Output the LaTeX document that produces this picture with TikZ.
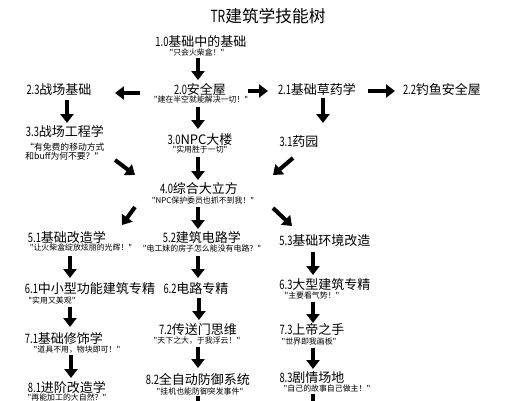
\documentclass[tikz,border=0pt]{standalone}
\usepackage{fontspec}
\usepackage{graphicx}
\newfontfamily\cjk{Noto Sans CJK SC}
\usetikzlibrary{arrows.meta}
\newcommand\nm[1]{\scalebox{0.72}[1]{#1}}

\begin{document}
\begin{tikzpicture}[x=0.02cm,y=-0.02cm,
  lbl/.style={font=\cjk\fontsize{7.4}{8}\selectfont,inner sep=0pt,text height=5.8pt,text depth=0.8pt},
  qt/.style={font=\cjk\fontsize{4.5}{5.4}\selectfont,inner sep=0pt,text height=3.6pt,text depth=0.6pt},
  blk/.style={line width=2.3pt,-{Triangle[width=7.4pt,length=5.1pt]}}]
  \useasboundingbox (0,0) rectangle (505,400);
  \fill[white] (0,0) rectangle (505,400);
  % title
  \node[font=\cjk\fontsize{9.5}{10}\selectfont,inner sep=0pt](title) at (268,16){\nm{TR}建筑学技能树};
  % middle column
  \node[lbl](n10) at (201,42){\nm{1.0}基础中的基础};
  \node[qt](q10) at (197,53){"只会火柴盒！"};
  \node[lbl](n20) at (200,90){\nm{2.0}安全屋};
  \node[qt](q20) at (201,100){"建在半空就能解决一切！"};
  \node[lbl](n30) at (200,140){\nm{3.0}NPC大楼};
  \node[qt](q30) at (200,150){"实用胜于一切"};
  \node[lbl](n40) at (199,189){\nm{4.0}综合大立方};
  \node[qt](q40) at (203,201){"NPC保护委员也抓不到我！"};
  \node[lbl](n52) at (202,238){\nm{5.2}建筑电路学};
  \node[qt](q52) at (202,249){"电工妹的房子怎么能没有电路？"};
  \node[lbl](n62) at (196,289){\nm{6.2}电路专精};
  \node[lbl](n72) at (198,330){\nm{7.2}传送门思维};
  \node[qt](q72) at (197,341){"天下之大，于我浮云！"};
  \node[lbl](n82) at (198,380){\nm{8.2}全自动防御系统};
  \node[qt](q82) at (200,392){"挂机也能防御突发事件"};
  % left column
  \node[lbl](n23) at (59,90){\nm{2.3}战场基础};
  \node[lbl](n33) at (65,132){\nm{3.3}战场工程学};
  \node[qt,font=\cjk\fontsize{5}{5.2}\selectfont,align=left,anchor=west,text height=,text depth=](q33) at (25,152){“有免费的移动方式\\和buff为何不要？"};
  \node[lbl](n51) at (67,238){\nm{5.1}基础改造学};
  \node[qt](q51) at (81,248){"让火柴盒绽放炫丽的光辉！"};
  \node[lbl](n61) at (90,289){\nm{6.1}中小型功能建筑专精};
  \node[qt](q61) at (52,301){"实用又美观"};
  \node[lbl](n71) at (64,339){\nm{7.1}基础修饰学};
  \node[qt](q71) at (77,350){"道具不用，物块即可！"};
  \node[lbl](n81) at (67,388){\nm{8.1}进阶改造学};
  \node[qt](q81) at (67,398){"再能加工的大自然？"};
  % right column
  \node[lbl](n21) at (317,90){\nm{2.1}基础草药学};
  \node[lbl](n22) at (442,90){\nm{2.2}钓鱼安全屋};
  \node[lbl](n31) at (299,142){\nm{3.1}药园};
  \node[lbl](n53) at (325,241){\nm{5.3}基础环境改造};
  \node[lbl](n63) at (325,285){\nm{6.3}大型建筑专精};
  \node[qt](q63) at (312,296){"主要看气势！"};
  \node[lbl](n73) at (312,330){\nm{7.3}上帝之手};
  \node[qt](q73) at (309,342){"世界即我画板"};
  \node[lbl](n83) at (312,378){\nm{8.3}剧情场地};
  \node[qt](q83) at (327,389){"自己的故事自己做主！"};
  % arrows
  \draw[blk]([shift={(1,5)}]q10.center)--([shift={(-2,-10)}]n20.center);
  \draw[blk]([shift={(-60,3)}]n20.center)--([shift={(56,3)}]n23.center);
  \draw[blk]([shift={(48,1)}]n20.center)--([shift={(-49,1)}]n21.center);
  \draw[blk]([shift={(51,1)}]n21.center)--([shift={(-47,1)}]n22.center);
  \draw[blk]([shift={(8,10)}]n23.center)--([shift={(2,-9)}]n33.center);
  \draw[blk]([shift={(-3,7)}]q20.center)--([shift={(-2,-11)}]n30.center);
  \draw[blk]([shift={(6,8)}]n21.center)--([shift={(24,-19)}]n31.center);
  \draw[blk]([shift={(90,8)}]q33.west)--([shift={(-64,-14)}]n40.center);
  \draw[blk]([shift={(-2,7)}]q30.center)--([shift={(-1,-9)}]n40.center);
  \draw[blk]([shift={(-6,16)}]n31.center)--([shift={(74,-14)}]n40.center);
  \draw[blk]([shift={(-68,6)}]q40.center)--([shift={(55,-13)}]n51.center);
  \draw[blk]([shift={(-5,6)}]q40.center)--([shift={(-4,-9)}]n52.center);
  \draw[blk]([shift={(70,7)}]q40.center)--([shift={(-33,-15)}]n53.center);
  \draw[blk]([shift={(-11,8)}]q51.center)--([shift={(-20,-11)}]n61.center);
  \draw[blk]([shift={(-4,7)}]q52.center)--([shift={(2,-11)}]n62.center);
  \draw[blk]([shift={(-12,11)}]n53.center)--([shift={(-12,-10)}]n63.center);
  \draw[blk]([shift={(18,6)}]q61.center)--([shift={(6,-12)}]n71.center);
  \draw[blk]([shift={(3,9)}]n62.center)--([shift={(1,-10)}]n72.center);
  \draw[blk]([shift={(1,6)}]q63.center)--([shift={(1,-7)}]n73.center);
  \draw[blk]([shift={(-6,5)}]q71.center)--([shift={(4,-10)}]n81.center);
  \draw[blk]([shift={(1,6)}]q72.center)--([shift={(0,-12)}]n82.center);
  \draw[blk]([shift={(4,6)}]q73.center)--([shift={(1,-9)}]n83.center);
  \draw[blk]([shift={(-2,4)}]q82.center)--++(0,22);
  \draw[blk]([shift={(-14,5)}]q83.center)--++(0,22);
\end{tikzpicture}
\end{document}
